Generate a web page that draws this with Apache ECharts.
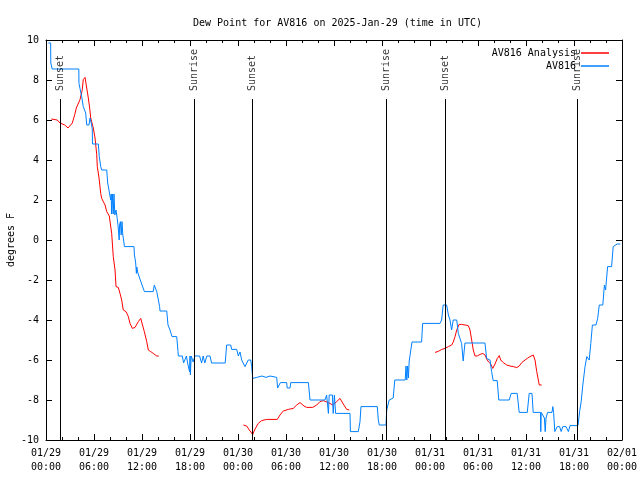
<!DOCTYPE html>
<html><head><meta charset="utf-8">
<script src="https://cdn.jsdelivr.net/npm/echarts@6/dist/echarts.min.js"></script>
<style>html,body{margin:0;padding:0;background:#fff}#c{width:640px;height:480px}</style>
</head><body><div id="c"></div>
<script>
// ---- data (hours since 2025-01-29 00:00 UTC) ----
const chartTitle = 'Dew Point for AV816 on 2025-Jan-29 (time in UTC)';
const xTickLabels = ['01/29\n00:00','01/29\n06:00','01/29\n12:00','01/29\n18:00','01/30\n00:00','01/30\n06:00','01/30\n12:00','01/30\n18:00','01/31\n00:00','01/31\n06:00','01/31\n12:00','01/31\n18:00','02/01\n00:00'];
const yTicks = [-10,-8,-6,-4,-2,0,2,4,6,8,10];

const analysisHours = [0.66,1.41,1.75,2.34,2.75,3.0,3.29,3.59,3.79,4.04,4.25,4.54,4.66,4.88,5.09,5.29,5.46,5.59,5.91,6.13,6.34,6.41,6.63,6.84,6.96,7.16,7.38,7.59,7.91,8.09,8.21,8.41,8.63,8.75,9.04,9.25,9.46,9.66,10.0,10.29,10.5,10.79,11.13,11.54,11.84,12.09,12.29,12.59,12.79,13.09,13.41,13.84,14.09,
  20.0,
  24.67,25.09,25.41,25.84,26.13,26.54,26.96,27.59,28.91,29.25,29.66,30.29,30.91,31.34,31.75,32.25,32.59,33.34,33.84,34.25,34.66,35.29,35.84,36.34,36.75,37.16,37.59,37.91,
  44.0,
  48.63,49.04,49.46,49.88,50.29,50.71,50.91,51.13,51.34,51.63,51.96,52.38,52.79,53.0,53.21,53.41,53.63,53.91,54.25,54.59,54.88,55.08,55.33,55.59,55.84,56.13,56.41,56.66,56.84,57.16,57.59,58.0,58.41,58.84,59.16,59.46,59.88,60.16,60.5,60.91,61.13,61.34,61.54,61.66,61.96];
const analysisValues = [6.05,6.0,5.85,5.75,5.6,5.6,5.85,6.27,6.6,6.65,7.02,7.52,8.02,8.13,7.6,7.1,6.6,6.1,5.6,5.1,4.27,3.68,3.1,2.33,2.08,2.0,1.75,1.42,1.2,1.15,0.33,-0.83,-1.5,-2.33,-2.37,-2.67,-3.0,-3.5,-3.58,-3.83,-4.17,-4.42,-4.37,-4.08,-3.92,-3.97,-4.58,-5.08,-5.5,-5.58,-5.67,-5.8,-5.8,
  null,
  -9.25,-9.3,-9.5,-9.72,-9.45,-9.17,-9.03,-8.97,-8.97,-8.75,-8.55,-8.47,-8.42,-8.25,-8.13,-8.3,-8.37,-8.37,-8.25,-8.08,-8.03,-8.13,-8.25,-8.08,-7.92,-8.2,-8.47,-8.5,
  null,
  -5.62,-5.57,-5.47,-5.42,-5.33,-5.25,-5.1,-4.83,-4.5,-4.22,-4.22,-4.25,-4.28,-4.5,-5.0,-5.5,-5.8,-5.8,-5.72,-5.67,-5.75,-5.95,-6.1,-6.2,-6.42,-6.2,-5.92,-5.78,-6.0,-6.13,-6.25,-6.3,-6.33,-6.38,-6.3,-6.13,-6.0,-5.92,-5.83,-5.75,-6.0,-6.58,-7.0,-7.25,-7.25];

const stationHours = [0.3,0.58,0.6,0.75,0.77,4.1,4.12,4.46,4.66,4.96,5.09,5.37,5.5,5.71,5.79,5.81,6.54,6.66,6.84,6.96,7.59,7.71,7.87,8.09,8.15,8.2,8.3,8.4,8.5,8.6,8.75,8.9,9.0,9.15,9.2,9.3,9.4,9.5,9.6,9.7,9.8,11.0,11.05,11.2,11.3,11.35,11.45,11.6,11.7,11.95,12.05,12.3,13.4,13.54,13.84,14.0,14.2,14.25,15.09,15.25,15.5,15.75,16.34,16.5,16.54,17.04,17.2,17.45,17.55,17.7,17.85,17.95,18.0,18.05,18.15,18.4,18.6,19.2,19.45,19.65,19.85,20.1,20.5,20.7,22.4,22.58,23.09,23.21,23.84,24.04,24.25,24.46,24.87,25.29,25.59,25.71,25.84,26.34,27.0,27.5,28.0,28.84,28.95,29.2,29.3,30.08,30.15,30.5,30.6,32.8,33.0,34.87,35.08,35.3,35.4,35.8,35.9,36.05,36.2,38.0,38.05,39.04,39.25,39.37,41.41,41.54,41.66,42.5,42.59,42.9,43.4,43.6,44.9,45.0,45.1,45.2,45.3,45.4,45.6,45.75,46.95,47.08,49.25,49.45,49.65,50.08,50.3,50.5,50.7,50.9,51.34,51.54,51.95,52.15,52.37,54.87,55.08,55.5,55.7,55.9,56.4,56.6,57.9,58.15,58.9,59.15,60.16,60.4,60.75,60.9,61.8,61.85,61.9,62.3,62.4,62.5,62.7,63.25,63.35,63.45,63.6,63.9,64.2,64.4,64.6,65.0,65.3,65.5,66.5,66.7,66.9,67.1,67.38,67.6,67.9,68.1,68.3,68.75,68.96,69.16,69.6,69.8,69.95,70.2,70.7,70.9,71.15,71.4,71.8];
const stationValues = [9.85,9.85,8.85,8.85,8.55,8.55,7.83,7.17,6.67,6.35,5.75,5.75,6.1,5.75,5.5,4.8,4.8,4.17,3.67,3.5,3.5,2.85,2.5,2.0,2.3,1.3,2.3,1.3,2.3,1.25,1.5,1.08,0.75,0.0,0.75,0.92,0.25,0.92,0.25,0.0,-0.33,-0.33,-0.75,-1.1,-1.67,-1.35,-1.6,-1.6,-1.9,-1.9,-2.3,-2.58,-2.58,-2.25,-2.58,-2.9,-3.33,-3.55,-3.55,-4.25,-4.5,-4.83,-4.83,-5.58,-5.8,-5.8,-6.15,-6.15,-5.8,-6.15,-6.15,-6.6,-5.8,-6.75,-5.8,-6.1,-5.8,-5.8,-6.15,-5.8,-6.15,-5.8,-5.8,-6.15,-6.15,-5.25,-5.25,-5.47,-5.47,-5.8,-5.6,-6.0,-6.33,-6.0,-6.0,-6.33,-6.92,-6.87,-6.8,-6.87,-6.8,-6.87,-7.4,-7.4,-7.13,-7.13,-7.4,-7.4,-7.13,-7.13,-8.0,-8.0,-7.75,-8.67,-7.75,-7.75,-8.67,-7.75,-8.67,-8.67,-9.58,-9.58,-9.08,-8.33,-8.33,-9.0,-9.25,-9.25,-8.5,-8.0,-7.9,-7.0,-7.0,-6.3,-7.0,-6.3,-6.9,-6.05,-6.05,-5.1,-5.1,-4.17,-4.17,-4.0,-3.25,-3.25,-3.75,-4.0,-4.5,-4.0,-4.0,-4.67,-5.17,-6.05,-5.15,-5.15,-5.92,-6.0,-6.58,-7.03,-7.03,-8.0,-8.0,-7.67,-7.67,-8.62,-8.62,-7.67,-7.67,-8.62,-8.62,-9.58,-8.62,-8.9,-9.58,-8.9,-8.62,-8.62,-8.33,-8.62,-9.58,-9.33,-9.33,-9.58,-9.33,-9.33,-9.58,-9.28,-9.28,-8.58,-8.08,-7.25,-6.33,-5.83,-6.0,-5.17,-4.25,-4.25,-3.92,-3.25,-3.25,-2.25,-2.5,-1.33,-1.33,-0.33,-0.33,-0.2,-0.2];

const sunEventHours = [1.8, 18.54, 25.8, 42.5, 49.9, 66.4];
const sunEventLabels = ['Sunset','Sunrise','Sunset','Sunrise','Sunset','Sunrise'];
const sunLineTop = 7.05;   // data value where marker line ends
const sunLabelBase = 7.45; // data value where marker text starts

// ---- chart ----
const FONT = 'DejaVu Sans Mono';
const zip = (xs, ys) => xs.map((x, i) => [x, ys[i]]);
const chart = echarts.init(document.getElementById('c'), null, {renderer: 'canvas'});

const xCommon = {type: 'value', min: 0, max: 72, interval: 6,
  axisLine: {show: true, onZero: false, lineStyle: {color: '#000', width: 1}},
  axisTick: {show: true, inside: true, length: 6, lineStyle: {color: '#000'}},
  minorTick: {show: true, splitNumber: 3, length: 3, lineStyle: {color: '#000'}},
  splitLine: {show: false}};
const yCommon = {type: 'value', min: -10, max: 10, interval: 2,
  axisLine: {show: true, onZero: false, lineStyle: {color: '#000', width: 1}},
  axisTick: {show: true, inside: true, length: 6, lineStyle: {color: '#000'}},
  splitLine: {show: false}};

chart.setOption({
  animation: false,
  backgroundColor: '#fff',
  textStyle: {fontFamily: FONT},
  title: {text: chartTitle, left: 188, top: 13,
    textStyle: {fontFamily: FONT, fontSize: 10, fontWeight: 'normal', color: '#000'}},
  legend: [
    {data: ['AV816 Analysis'], right: 26, top: 43, orient: 'vertical', align: 'right', icon: 'rect',
     itemWidth: 28, itemHeight: 1.5, textStyle: {fontFamily: FONT, fontSize: 10, color: '#000'}, selectedMode: false},
    {data: ['AV816'], right: 26, top: 56, orient: 'vertical', align: 'right', icon: 'rect',
     itemWidth: 28, itemHeight: 1.5, textStyle: {fontFamily: FONT, fontSize: 10, color: '#000'}, selectedMode: false}
  ],
  grid: {left: 46, right: 18, top: 40, bottom: 40, containLabel: false, outerBoundsMode: 'none'},
  xAxis: [
    Object.assign({}, xCommon, {position: 'bottom',
      axisLabel: {margin: 6, fontFamily: FONT, fontSize: 10, lineHeight: 14, color: '#000',
        formatter: v => xTickLabels[Math.round(v / 6)] || ''}}),
    Object.assign({}, xCommon, {position: 'top', axisLabel: {show: false}})
  ],
  yAxis: [
    Object.assign({}, yCommon, {position: 'left', name: 'degrees F', nameLocation: 'middle', nameGap: 30,
      nameMoveOverlap: false,
      nameTextStyle: {fontFamily: FONT, fontSize: 10, color: '#000'},
      axisLabel: {margin: 7, fontFamily: FONT, fontSize: 10, color: '#000',
        formatter: v => yTicks.includes(v) ? String(v) : ''}}),
    Object.assign({}, yCommon, {position: 'right', axisLabel: {show: false}})
  ],
  series: [
    {name: 'AV816 Analysis', type: 'line', data: zip(analysisHours, analysisValues),
     showSymbol: false, symbol: 'none', connectNulls: false, color: '#ff0000',
     lineStyle: {color: '#ff0000', width: 1}, z: 2},
    {name: 'AV816', type: 'line', data: zip(stationHours, stationValues),
     showSymbol: false, symbol: 'none', color: '#0080ff',
     lineStyle: {color: '#0080ff', width: 1}, z: 3},
    {name: 'sun', type: 'scatter', data: sunEventHours.map((h, i) => ({value: [h, sunLabelBase], name: sunEventLabels[i]})),
     symbolSize: 0.01, itemStyle: {color: 'rgba(0,0,0,0)'}, silent: true, z: 5,
     label: {show: true, position: 'inside', formatter: p => p.name, rotate: 90, align: 'left', verticalAlign: 'middle',
       fontFamily: FONT, fontSize: 10, color: '#000'},
     markLine: {silent: true, symbol: 'none', animation: false,
       lineStyle: {color: '#000', width: 1, type: 'solid'}, label: {show: false},
       data: sunEventHours.map(h => [{coord: [h, -10]}, {coord: [h, sunLineTop]}])}}
  ]
});
</script></body></html>
